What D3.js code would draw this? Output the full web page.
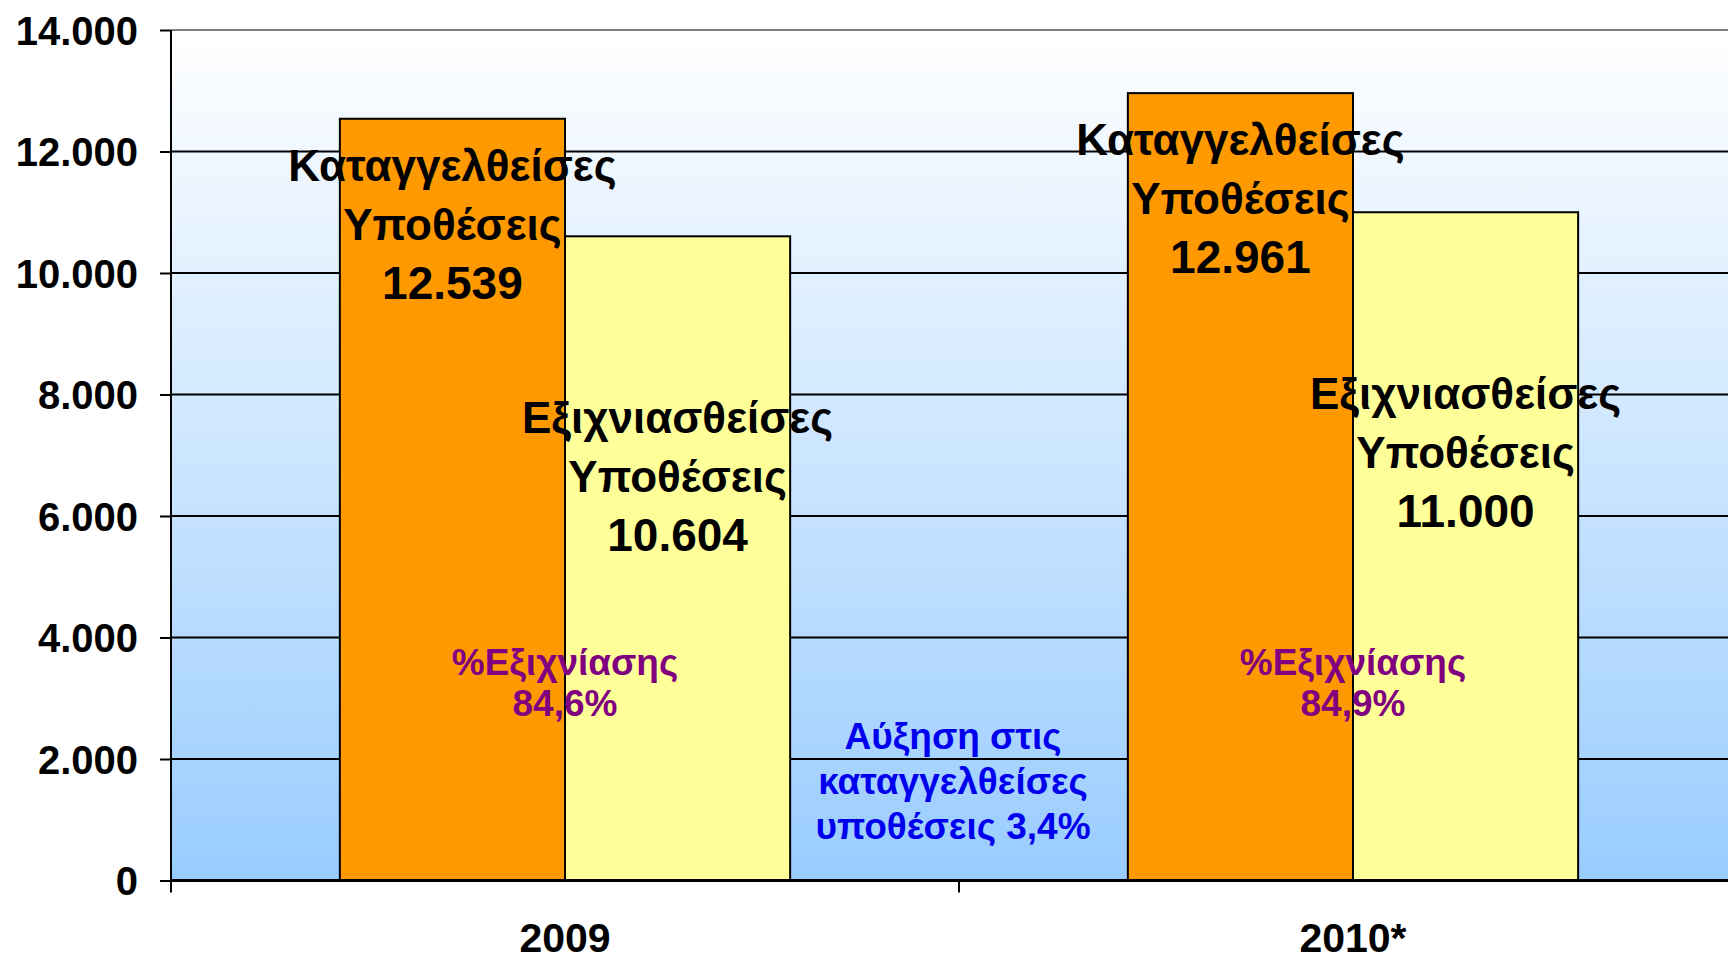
<!DOCTYPE html>
<html>
<head>
<meta charset="utf-8">
<script src="https://cdn.jsdelivr.net/npm/d3@7"></script>
<style>
  body { margin: 0; background: #fff; }
  svg { display: block; font-family: "Liberation Sans", Arial, sans-serif; font-weight: bold; }
</style>
</head>
<body>
<div id="vis"></div>
<script>
// data
let years = ['2009', '2010*']
let seriesNames = [['Καταγγελθείσες', 'Υποθέσεις'], ['Εξιχνιασθείσες', 'Υποθέσεις']]
let reported = [12539, 12961]
let solved = [10604, 11000]
let yTicks = [0, 2000, 4000, 6000, 8000, 10000, 12000, 14000]
let pctTitle = '%Εξιχνίασης'
let growthText = ['Αύξηση στις', 'καταγγελθείσες', 'υποθέσεις']

let width = 1728, height = 960
let plotLeft = 171, plotTop = 30, plotBottom = 880.5
let bandW = 788

let gr = d3.formatLocale({decimal: ',', thousands: '.', grouping: [3], currency: ['', '€']})
let fmtNum = gr.format(',d')
let fmtPct = gr.format('.1%')

let svg = d3.select('#vis')
  .append('svg')
  .attr('width', width)
  .attr('height', height)

let defs = svg.append('defs')
let grad = defs.append('linearGradient')
  .attr('id', 'bg')
  .attr('x1', 0).attr('y1', 0).attr('x2', 0).attr('y2', 1)
grad.append('stop').attr('offset', '0%').attr('stop-color', '#ffffff')
grad.append('stop').attr('offset', '100%').attr('stop-color', '#99ccff')

let x0 = d3.scaleBand()
  .domain(years)
  .range([plotLeft, plotLeft + bandW * years.length])

let x1 = d3.scaleBand()
  .domain([0, 1])
  .range([0, x0.bandwidth()])
  .paddingOuter(0.75)

let y = d3.scaleLinear()
  .domain([0, 14000])
  .range([plotBottom, plotTop])

// plot background
svg.append('rect')
  .attr('x', plotLeft).attr('y', y(14000))
  .attr('width', width - plotLeft)
  .attr('height', y(0) - y(14000))
  .attr('fill', 'url(#bg)')

// gridlines
svg.selectAll('.grid')
  .data(yTicks.slice(1))
  .join('line')
  .attr('x1', plotLeft).attr('x2', width)
  .attr('y1', d => y(d)).attr('y2', d => y(d))
  .attr('stroke', d => d == 14000 ? '#808080' : '#000')
  .attr('stroke-width', 2)

// y axis
let yAxis = d3.axisLeft(y)
  .tickValues(yTicks)
  .tickSize(11)
  .tickPadding(22)
  .tickFormat(d => fmtNum(d))

let ga = svg.append('g')
  .attr('transform', `translate(${plotLeft},0)`)
  .call(yAxis)
ga.select('.domain').remove()
ga.selectAll('.tick line').attr('stroke', '#000').attr('stroke-width', 2)
ga.selectAll('.tick text')
  .attr('fill', '#000')
  .style('font-size', '40px')
  .style('font-weight', 'bold')
  .style('font-family', '"Liberation Sans", Arial, sans-serif')
  .attr('dy', '0.36em')

// bars
let rows = years.map((yr, i) => ({year: yr, vals: [reported[i], solved[i]]}))
let colors = ['#ff9900', '#ffff99']

let groups = svg.selectAll('.yr')
  .data(rows)
  .join('g')
  .attr('transform', d => `translate(${x0(d.year)},0)`)

groups.selectAll('rect')
  .data(d => d.vals.map((v, k) => ({k: k, v: v})))
  .join('rect')
  .attr('x', d => x1(d.k))
  .attr('y', d => y(d.v))
  .attr('width', x1.bandwidth())
  .attr('height', d => y(0) - y(d.v))
  .attr('fill', d => colors[d.k])
  .attr('stroke', '#000')
  .attr('stroke-width', 2)

// y axis line + x axis
svg.append('line')
  .attr('x1', plotLeft).attr('x2', plotLeft)
  .attr('y1', y(14000)).attr('y2', y(0) + 12)
  .attr('stroke', '#000').attr('stroke-width', 2)

svg.append('line')
  .attr('x1', plotLeft).attr('x2', width)
  .attr('y1', y(0)).attr('y2', y(0))
  .attr('stroke', '#000').attr('stroke-width', 3)

svg.selectAll('.xtick')
  .data(years.slice(1))
  .join('line')
  .attr('x1', d => x0(d)).attr('x2', d => x0(d))
  .attr('y1', y(0)).attr('y2', y(0) + 12)
  .attr('stroke', '#000').attr('stroke-width', 2)

svg.selectAll('.xlab')
  .data(years)
  .join('text')
  .attr('x', d => x0(d) + x0.bandwidth() / 2)
  .attr('y', 952)
  .attr('text-anchor', 'middle')
  .style('font-size', '41px')
  .text(d => d)

// value labels
let labelOffset = [62, 197]
groups.each(function (d) {
  let g = d3.select(this)
  d.vals.forEach((v, k) => {
    let lines = seriesNames[k].concat([fmtNum(v)])
    g.append('text')
      .attr('text-anchor', 'middle')
      .attr('x', x1(k) + x1.bandwidth() / 2)
      .attr('y', y(v) + labelOffset[k])
      .style('font-size', '44px')
      .selectAll('tspan')
      .data(lines)
      .join('tspan')
      .attr('x', x1(k) + x1.bandwidth() / 2)
      .attr('dy', (t, j) => j == 0 ? 0 : 59)
      .style('font-size', (t, j) => j == 2 ? '46px' : '44px')
      .text(t => t)
  })
  // % solved
  let pct = d.vals[1] / d.vals[0]
  g.append('text')
    .attr('text-anchor', 'middle')
    .attr('fill', '#800080')
    .style('font-size', '37px')
    .selectAll('tspan')
    .data([pctTitle, fmtPct(pct)])
    .join('tspan')
    .attr('x', x1(1))
    .attr('y', (t, j) => y(3380) + j * 41)
    .text(t => t)
})

// growth note
let growth = reported[1] / reported[0] - 1
svg.append('text')
  .attr('text-anchor', 'middle')
  .attr('fill', '#0000ee')
  .style('font-size', '37px')
  .selectAll('tspan')
  .data([growthText[0], growthText[1], growthText[2] + ' ' + fmtPct(growth)])
  .join('tspan')
  .attr('x', x0(years[1]) - 6)
  .attr('y', (t, j) => y(2170) + j * 45)
  .text(t => t)
</script>
</body>
</html>
